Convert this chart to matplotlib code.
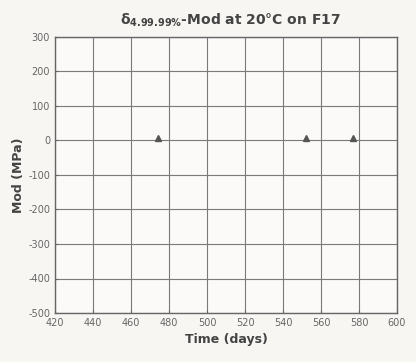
import matplotlib
matplotlib.use("Agg")
import matplotlib.pyplot as plt

plt.rcParams["axes.unicode_minus"] = False
plt.rcParams["mathtext.fontset"] = "dejavusans"

# data
time_days = [474, 552, 577]
mod_mpa = [8, 6, 6]

x_ticks = [420, 440, 460, 480, 500, 520, 540, 560, 580, 600]
y_ticks = [300, 200, 100, 0, -100, -200, -300, -400, -500]

fig = plt.figure(figsize=(4.16, 3.62), dpi=100, facecolor="#f7f6f3")
ax = fig.add_axes([55 / 416, 1 - 313 / 362, 342 / 416, 276 / 362])
ax.set_facecolor("#fbfaf8")

ax.plot(time_days, mod_mpa, linestyle="none", marker="^", markersize=4,
        color="#555555")

ax.set_xlim(420, 600)
ax.set_ylim(-500, 300)
ax.set_xticks(x_ticks)
ax.set_yticks(y_ticks)
ax.tick_params(labelsize=7, colors="#666666", length=2, direction="in")
ax.grid(True, color="#7a7a7a", linewidth=0.8)
for s in ax.spines.values():
    s.set_color("#666666")
    s.set_linewidth(1.0)

ax.set_xlabel("Time (days)", fontsize=9, fontweight="bold", color="#444444",
              labelpad=4)
ax.set_ylabel("Mod (MPa)", fontsize=9, fontweight="bold", color="#444444",
              labelpad=2)
fig.text(0.555, 0.945,
         r"$\mathregular{\delta_{\mathbf{4.99.99\%}}}$-Mod at 20°C on F17",
         ha="center", va="center", fontsize=10, fontweight="bold",
         color="#444444")

fig.savefig("out.png", dpi=100, facecolor=fig.get_facecolor())
